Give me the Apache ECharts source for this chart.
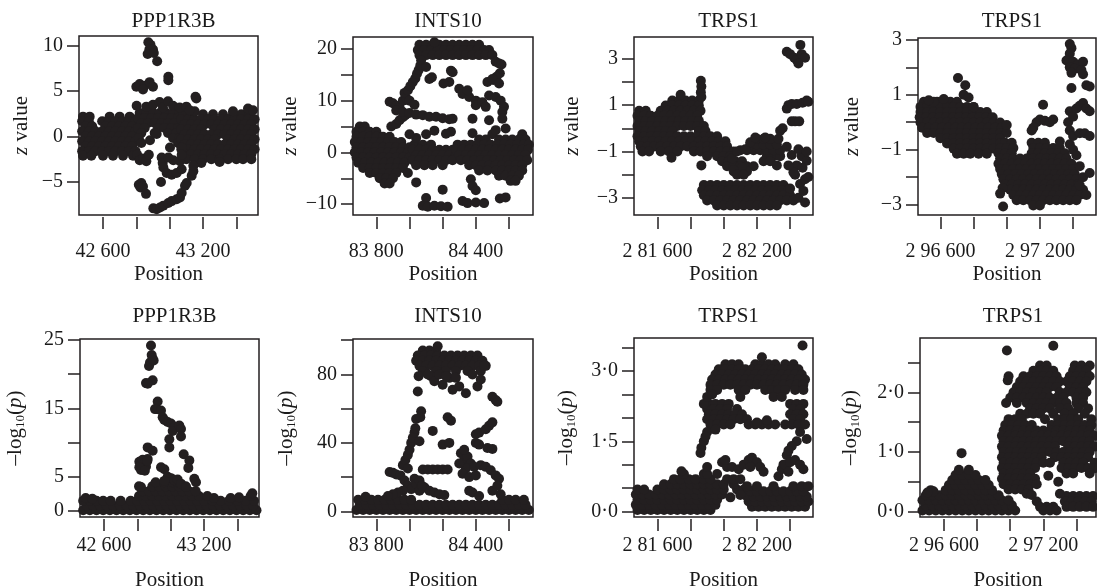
<!DOCTYPE html>
<html><head><meta charset="utf-8">
<script src="https://cdn.jsdelivr.net/npm/echarts@6/dist/echarts.min.js"></script>
<style>html,body{margin:0;padding:0;background:#fff}#c{width:1097px;height:588px}</style>
</head><body><div id="c"></div>
<script>
// ---------- titles ----------
const titles = ['PPP1R3B','INTS10','TRPS1','TRPS1','PPP1R3B','INTS10','TRPS1','TRPS1'];

// ---------- x ticks ----------
const xTicks1 = [42600,42800,43000,43200,43400], xLabVals1 = [42600,43200], xLabTxt1 = ['42 600','43 200'];
const xTicks2 = [83800,84000,84200,84400,84600], xLabVals2 = [83800,84400], xLabTxt2 = ['83 800','84 400'];
const xTicks3 = [281600,281800,282000,282200,282400], xLabVals3 = [281600,282200], xLabTxt3 = ['2 81 600','2 82 200'];
const xTicks4 = [296600,296800,297000,297200,297400], xLabVals4 = [296600,297200], xLabTxt4 = ['2 96 600','2 97 200'];

// ---------- y ticks ----------
const yTicksZ1 = [-5,0,5,10], yLabValsZ1 = [-5,0,5,10], yLabTxtZ1 = ['\u22125','0','5','10'];
const yTicksZ2 = [-10,-5,0,5,10,15,20], yLabValsZ2 = [-10,0,10,20], yLabTxtZ2 = ['\u221210','0','10','20'];
const yTicksZ3 = [-3,-2,-1,0,1,2,3], yLabValsZ3 = [-3,-1,1,3], yLabTxtZ3 = ['\u22123','\u22121','1','3'];
const yTicksZ4 = [-3,-2,-1,0,1,2,3], yLabValsZ4 = [-3,-1,1,3], yLabTxtZ4 = ['\u22123','\u22121','1','3'];
const yTicksP1 = [0,5,10,15,20,25], yLabValsP1 = [0,5,15,25], yLabTxtP1 = ['0','5','15','25'];
const yTicksP2 = [0,20,40,60,80,100], yLabValsP2 = [0,40,80], yLabTxtP2 = ['0','40','80'];
const yTicksP3 = [0,0.5,1,1.5,2,2.5,3,3.5], yLabValsP3 = [0,1.5,3], yLabTxtP3 = ['0\u00b70','1\u00b75','3\u00b70'];
const yTicksP4 = [0,0.5,1,1.5,2,2.5], yLabValsP4 = [0,1,2], yLabTxtP4 = ['0\u00b70','1\u00b70','2\u00b70'];

// ---------- data ----------
// Dense regions are listed row by row: [y, x1, x2, ...] (each x is one point at that y).
// Isolated points are listed as [x, y].

// PPP1R3B, z value
const z1Rows = [
[2.2, 42480,42520,42640,42700,42760],
[1.7, 42475,42515,42595,42635,42675,42715,42755,42795],
[1.15, 42495,42535,42615,42655,42695,42735,42775],
[0.6, 42475,42515,42555,42595,42635,42675,42715,42755,42795],
[0.05, 42495,42535,42575,42615,42655,42695,42735,42775],
[-0.5, 42475,42515,42555,42595,42635,42675,42715,42755,42795],
[-1.05, 42495,42535,42575,42615,42655,42695,42735,42775],
[-1.6, 42475,42515,42555,42595,42635,42675,42715,42755,42795],
[-2.1, 42480,42530,42600,42660,42720,42780],
[2.6, 42820,42860,42900,42940,42980,43020,43060],
[2.05, 42810,42850,42890,42930,42970,43010,43050],
[1.5, 42830,42870,42910,42950,42990,43030],
[0.95, 42810,42850,42930,42970,43010,43050],
[0.4, 42830,42910,42990,43040],
[-0.15, 42815,43020,43060],
[-0.7, 42830,43050],
[2.45, 43080,43130,43200,43260,43320,43380,43430,43480],
[1.9, 43070,43110,43150,43190,43230,43270,43310,43350,43390,43430,43470,43510],
[1.35, 43090,43130,43170,43210,43250,43290,43330,43370,43410,43450,43490],
[0.8, 43070,43110,43150,43190,43270,43310,43350,43390,43430,43470,43510],
[0.25, 43090,43130,43170,43210,43250,43290,43330,43370,43410,43450,43490],
[-0.3, 43070,43110,43150,43190,43230,43270,43350,43390,43430,43470,43510],
[-0.85, 43090,43130,43170,43210,43250,43290,43330,43370,43410,43450,43490],
[-1.4, 43070,43110,43150,43190,43230,43270,43310,43350,43390,43430,43470,43510],
[-1.95, 43090,43130,43170,43210,43250,43290,43330,43370,43410,43450,43490],
[-2.5, 43100,43150,43200,43250,43300,43350,43400,43440,43490]
];
const z1Pts = [
[43470,3.1],[43500,2.9],[43190,-2.9],[43300,-2.8],[43150,2.8],[43380,2.8],
[42872,10.4],[42885,10.1],[42878,9.6],[42900,9.6],[42868,9.1],[42905,9.2],[42925,8.3],
[42800,5.5],[42820,5.8],[42850,5.6],[42880,6.0],[42900,5.5],[42840,5.2],[42992,6.6],[42992,6.2],
[43160,4.2],[43155,4.4],
[42802,3.4],[42860,3.3],[42900,3.5],[42940,3.8],[42960,3.2],[42990,3.9],[43020,3.4],[43060,3.2],[43100,3.3],[43120,2.9],
[42815,-5.3],[42830,-5.1],[42840,-5.5],[42825,-5.6],[42858,-6.3],
[42805,-2.0],[42820,-2.6],[42840,-2.4],[42860,-2.7],[42875,-2.0],
[42882,-0.4],[42922,0.3],
[42902,-7.9],[42922,-8.0],[42942,-7.8],[42962,-7.6],[42992,-7.3],[43012,-7.1],[43042,-6.9],[43062,-6.7],[43072,-6.2],[43092,-5.4],[43102,-5.1],[43132,-4.3],[43142,-3.8],[43142,-3.2],
[42948,-5.0],
[42952,-2.3],[42958,-2.9],[42962,-3.4],[42982,-4.0],[43012,-4.2],[43042,-4.0],[43072,-3.6],[43062,-2.7],[43022,-2.6],[42992,-2.3],[43002,-1.2],
[43072,-1.2],[43072,-2.0]
];

// INTS10, z value
const z2Rows = [
[5.0, 83700,83730],
[4.0, 83680,83720,83760,83800],
[3.0, 83680,83720,83760,83800,83840,83880],
[2.0, 83670,83710,83750,83790,83830,83870,83910,83950],
[1.0, 83680,83720,83760,83800,83840,83880,83920,83960,84000],
[0.0, 83670,83710,83750,83790,83830,83870,83910,83950,83990],
[-1.0, 83680,83720,83760,83800,83840,83880,83920,83960,84000],
[-2.0, 83690,83730,83770,83810,83850,83890,83930,83970],
[-3.0, 83720,83760,83800,83840,83880,83920,83960],
[-4.0, 83760,83800,83840,83880,83920],
[-5.0, 83820,83860,83900],
[-6.0, 83850,83880],
[1.5, 84030,84080,84130],
[0.5, 84020,84060,84100,84140,84180,84220,84260],
[-0.5, 84040,84080,84120,84160,84200,84240,84280],
[-1.5, 84020,84060,84100,84140,84180,84220,84260],
[-2.5, 84040,84090,84140,84200],
[3.5, 84500,84680],
[2.5, 84420,84460,84540,84580,84620,84660,84700],
[1.5, 84290,84330,84370,84410,84450,84490,84530,84570,84610,84650,84690,84720],
[0.5, 84280,84320,84360,84400,84440,84480,84520,84560,84600,84640,84680,84715],
[-0.5, 84300,84340,84380,84420,84460,84500,84540,84580,84620,84660,84700],
[-1.5, 84310,84350,84390,84430,84470,84510,84550,84590,84630,84670,84710],
[-2.5, 84360,84400,84440,84480,84520,84560,84600,84640,84680],
[-3.5, 84420,84470,84520,84560,84600,84640,84680],
[-4.5, 84540,84580,84620,84660],
[-5.5, 84610,84640],
[20.8, 84060,84100,84140,84180,84220,84260,84300,84340,84380,84420],
[19.8, 84050,84090,84130,84170,84210,84250,84290,84330,84370,84410,84450,84480],
[18.8, 84060,84100,84140,84180,84220,84260,84300,84340,84380,84420,84460,84500]
];
const z2Pts = [
[84040,2.8],[84100,3.5],[84150,4.2],[84000,3.5],
[83890,5.0],[83920,5.5],[83940,6.2],[83960,6.8],[83975,7.2],
[83880,9.8],[83900,9.5],[83920,9.0],[83940,8.7],[83960,10.0],[83980,10.5],
[83970,11.5],[83990,12.0],[84005,12.8],[84020,13.6],[84035,14.3],[84045,15.2],[84055,15.9],[84065,16.8],[84070,17.8],
[84150,21.3],[84520,17.5],[84540,17.2],[84555,17.0],[84545,15.3],[84525,14.6],[84505,14.0],
[84100,16.5],[84120,14.2],[84135,14.5],[84250,15.8],[84240,13.6],[84205,13.3],[84260,15.5],
[84300,12.3],[84320,11.3],[84360,10.7],[84400,10.0],[84400,9.1],[84440,9.7],[84350,12.0],[84470,13.6],[84500,14.2],[84540,13.3],[84480,11.0],[84520,10.7],[84550,10.0],[84570,8.8],[84560,7.8],[84560,6.5],[84580,4.6],[84520,4.3],[84480,6.2],[84380,6.5],[84380,3.7],[84460,8.8],
[83920,8.1],[83960,7.8],[84000,7.6],[84040,7.3],[84080,7.2],[84120,6.9],[84160,6.9],[84200,6.6],[84240,6.4],[84260,6.5],[84250,4.0],[84220,3.6],
[84000,10.0],[84030,9.2],
[84100,-8.8],[84080,-10.3],[84110,-10.5],[84150,-10.3],[84190,-10.4],[84230,-10.5],[84200,-7.2],[84320,-9.4],[84350,-9.8],[84400,-9.7],[84450,-9.8],[84370,-5.2],[84380,-6.5],[84400,-7.3],[84545,-8.9],[84580,-8.7],[84040,-5.8],[83990,-4.0]
];

// TRPS1 (2 81 600 locus), z value
const z3Rows = [
[1.2, 281690,281730,281770,281810,281850],
[0.98, 281650,281690,281730,281770,281810,281850],
[0.76, 281490,281530,281620,281660,281700,281740,281780,281820,281860],
[0.54, 281480,281520,281560,281600,281640,281680,281720,281760,281800,281840],
[0.32, 281490,281530,281570,281610,281650,281690,281730,281770,281810,281850],
[0.1, 281480,281520,281560,281600,281640,281680,281720,281760,281800,281840,281880],
[-0.12, 281490,281530,281570,281610,281650,281690,281850,281890],
[-0.34, 281480,281520,281560,281600,281640,281680,281720,281760,281800,281840,281880,281920,281960],
[-0.56, 281490,281530,281570,281610,281650,281690,281730,281770,281810,281850,281890,281930,281970,282010],
[-0.78, 281500,281540,281580,281620,281660,281700,281740,281780,281820,281860,281900,281940,281980,282020],
[-1.0, 281510,281550,281620,281670,281720,281820,281860,281900,281940,281980,282020,282060],
[-1.2, 281960,282000,282040,282260,282300,282340],
[-1.42, 281990,282030,282070,282110,282240,282280],
[-1.64, 282020,282060,282100,282140,282180],
[-1.86, 282060,282100,282140],
[-0.95, 282100,282140,282180,282220,282260,282300,282340],
[-0.7, 282160,282200,282240,282280,282320],
[-0.45, 282200,282240,282280,282330],
[-2.45, 281880,281920,281960,282000,282040,282080,282120,282160,282200,282240,282280,282320,282360],
[-2.67, 281870,281910,281950,281990,282030,282070,282110,282150,282190,282230,282270,282310,282350,282390],
[-2.89, 281880,281920,281960,282000,282040,282080,282120,282160,282200,282240,282280,282320,282360,282400],
[-3.11, 281900,281940,281980,282020,282060,282100,282140,282180,282220,282260,282300,282340,282380,282420],
[-3.33, 281960,282000,282040,282080,282120,282160,282200,282240,282280,282320]
];
const z3Pts = [
[281740,1.45],[281685,-1.27],[281862,2.05],[281865,1.8],[281862,1.55],[281865,1.35],
[281865,-1.6],[281900,-1.2],
[282050,-1.3],[282080,-1.0],[282130,-0.9],[282160,-0.6],[282190,-0.4],[282250,-0.4],[282340,-0.1],
[282110,-1.7],[282060,-1.8],[282080,-2.0],[282120,-2.0],[282355,0.0],[282320,-1.6],
[282380,-0.8],[282410,-1.15],[282440,-1.6],[282470,-1.2],[282500,-1.4],[282430,-2.0],[282460,-2.4],[282490,-2.2],[282510,-2.1],[282400,-2.6],[282450,-3.0],[282490,-3.2],[282420,-1.9],[282450,-0.9],[282390,-1.6],[282480,-2.7],[282500,-1.0],[282475,-1.7],
[282380,3.3],[282400,3.2],[282425,3.05],[282440,2.95],[282462,3.6],[282470,3.2],[282490,3.05],[282450,2.8],
[282380,0.85],[282390,1.0],[282410,1.05],[282440,1.05],[282475,1.1],[282500,1.2],[282510,1.15],
[282410,0.3],[282430,0.3],[282455,0.3]
];

// TRPS1 (2 96 600 locus), z value
const z4Rows = [
[0.75, 296500,296540,296580,296620,296660,296700],
[0.56, 296480,296520,296560,296600,296640,296680,296720,296760,296800],
[0.37, 296480,296520,296560,296600,296640,296680,296720,296760,296800,296840,296880],
[0.18, 296475,296515,296555,296595,296635,296675,296715,296755,296795,296835,296875,296915],
[-0.01, 296480,296520,296560,296600,296640,296680,296720,296760,296800,296840,296880,296920,296960],
[-0.2, 296490,296530,296570,296610,296650,296690,296730,296770,296810,296850,296890,296930,296970],
[-0.39, 296520,296560,296600,296640,296680,296720,296760,296800,296840,296880,296920,296960,297000],
[-0.58, 296600,296640,296680,296720,296760,296800,296840,296880,296920,296960],
[-0.77, 296640,296680,296720,296760,296800,296840,296880,296920,296960],
[-0.96, 296680,296720,296760,296800,296840,296880,296920],
[-1.15, 296700,296740,296780,296830,296880],
[-0.75, 296990,297030,297150,297190,297230],
[-0.94, 296960,297000,297040,297160,297200,297240,297280,297320],
[-1.13, 296950,296990,297030,297150,297190,297230,297270,297310,297350],
[-1.32, 296960,297000,297040,297080,297120,297160,297200,297240,297280,297320,297360],
[-1.51, 296950,296990,297030,297070,297110,297150,297190,297230,297270,297310,297350,297390],
[-1.7, 296960,297000,297040,297080,297120,297160,297200,297240,297280,297320,297360,297400],
[-1.89, 296970,297010,297050,297090,297130,297170,297210,297250,297290,297330,297370,297410],
[-2.08, 296980,297020,297060,297100,297140,297180,297220,297260,297300,297340,297380,297420],
[-2.27, 296990,297030,297070,297110,297150,297190,297230,297270,297310,297350,297390,297430],
[-2.46, 297020,297060,297100,297140,297180,297220,297260,297300,297340,297380,297420,297460],
[-2.65, 297040,297080,297120,297160,297200,297240,297280,297320,297360,297400,297440,297480],
[-2.84, 297060,297100,297140,297180,297220,297260,297300,297340,297380,297420],
[-3.03, 297160,297200]
];
const z4Pts = [
[296706,1.61],[296750,1.35],[296740,1.0],[296770,0.9],[296620,0.85],[296560,0.75],[296800,0.55],[297000,-0.1],[296530,0.8],
[296978,-3.07],[296975,-2.4],[296960,-2.6],
[297320,-0.7],[297380,-0.8],[297400,-1.0],[297420,-1.2],[297440,-1.6],[297460,-2.0],[297500,-1.85],[297440,-2.3],
[297180,0.0],[297200,0.1],[297230,0.05],[297260,0.0],[297280,0.1],[297160,-0.2],[297150,-0.3],[297219,0.64],
[297370,0.0],[297380,0.4],[297400,0.2],[297420,0.5],[297440,0.6],[297460,0.7],[297480,0.5],[297500,0.4],[297380,-0.3],[297400,-0.5],[297440,-0.4],[297470,-0.4],[297500,-0.5],
[297380,2.85],[297390,2.7],[297380,2.5],[297360,2.25],[297400,2.2],[297430,2.1],[297460,2.2],[297380,2.0],[297410,1.95],[297450,1.9],[297390,1.8],[297460,1.75],[297480,1.35],[297500,1.3],[297390,1.25]
];

// PPP1R3B, -log10(p)
const lp1Rows = [
[0.1, 42475,42515,42555,42595,42635,42675,42715,42755,42795,42835,42875,42915,42955,42995,43035,43075,43115,43155,43195,43235,43275,43315,43355,43395,43435,43475,43515],
[0.8, 42495,42535,42575,42615,42655,42695,42735,42775,42815,42855,42895,42935,42975,43015,43055,43095,43135,43175,43215,43255,43295,43335,43375,43415,43455,43495],
[1.5, 42475,42515,42555,42595,42640,42700,42760,42800,42840,42880,42920,42960,43000,43040,43080,43120,43160,43200,43250,43300,43350,43400,43450,43500],
[2.2, 42810,42850,42890,42930,42970,43010,43050,43090,43130,43170,43220,43480],
[2.9, 42830,42870,42910,42950,42990,43030,43070,43110,43150],
[3.6, 42810,42890,42930,42970,43010,43050,43090],
[4.2, 42910,42960,43010,43040]
];
const lp1Pts = [
[42490,1.9],[42530,1.8],[43260,1.9],[43360,1.9],[43410,2.0],[43490,2.6],
[42882,24.2],[42886,22.8],[42892,22.3],[42876,21.7],[42870,21.2],[42898,22.0],[42892,19.1],[42852,18.7],[42862,18.6],
[42922,16.0],[42918,14.9],[42906,14.9],[42942,14.7],[42952,13.7],[42962,13.3],[42982,13.0],[43002,12.8],[43022,12.3],[43012,11.7],[43052,12.5],[43062,12.0],[43062,10.9],[42992,10.5],[42992,9.3],[43078,8.3],[43112,7.4],[43106,6.3],[43142,4.7],[43152,4.2],
[42812,7.2],[42822,6.8],[42832,7.5],[42842,7.0],[42852,6.5],[42862,7.6],[42822,6.0],[42812,6.4],[42845,5.9],[42860,7.3],[42862,9.3],[42892,8.8],[42942,6.4],[42962,6.1],[42822,3.5],
[42982,5.0],[43002,4.8],[43022,4.5],[43042,4.6],[43062,4.0],[42962,4.4],[43092,3.5]
];

// INTS10, -log10(p)
const lp2Rows = [
[0.8, 83680,83720,83760,83800,83840,83880,83920,83960,84000,84040,84080,84120,84160,84200,84240,84280,84320,84360,84400,84440,84480,84520,84560,84600,84640,84680,84720],
[3.8, 83700,83740,83780,83820,83860,83900,83940,83980,84020,84060,84100,84140,84180,84220,84260,84300,84340,84380,84420,84460,84500,84540,84580,84620,84660,84700],
[6.8, 83690,83730,83770,83810,83850,83890,83930,83970,84010,84560,84600,84640,84690],
[94, 84080,84120,84160],
[91, 84050,84090,84130,84170,84210,84250,84290,84330,84370,84410],
[88, 84040,84080,84120,84160,84200,84240,84280,84320,84360,84400,84440],
[85, 84060,84100,84140,84180,84220,84260,84300,84340,84380,84420,84460],
[82, 84080,84160,84220,84280,84350,84430]
];
const lp2Pts = [
[83735,8.5],
[83880,23.0],[83900,22.5],[83920,21.5],[83945,21.0],[83960,27.0],[83975,30.0],[83990,33.0],[84000,36.0],[84010,40.0],[84020,43.0],[84030,46.0],[84035,48.5],[83990,25.0],[83970,18.0],[83990,15.0],[84010,13.0],[84030,19.0],[84040,16.0],[83960,12.0],[83930,11.0],[83900,10.0],[83870,9.0],
[84080,24.5],[84110,24.5],[84140,24.5],[84170,24.5],[84200,24.5],[84230,24.5],
[84060,12.0],[84090,14.0],[84120,12.0],[84150,11.0],[84180,10.0],[84210,9.5],[84060,18.0],[84075,15.0],
[84170,96.5],
[84050,70],[84055,79],[84130,79],[84150,76],[84180,80],[84200,74],[84240,78],[84260,71],[84300,73],[84340,69],[84380,80],[84410,73],[84430,77],[84450,85],[84500,67],[84520,65],[84530,64],[84110,80],[84220,79],[84280,78],
[84070,58.5],[84040,54],[84065,55],[84230,55],[84250,53],[84060,41],[84140,47],[84200,39],[84240,40],
[84400,45],[84420,46],[84460,48],[84480,50],[84500,52],[84400,40],[84420,39],[84470,37],[84500,36.5],
[84310,34],[84330,30],[84350,32],[84370,28],[84340,25],[84320,22],[84360,20],[84390,26],[84400,21],[84330,36],[84300,28],
[84430,27],[84460,26],[84490,24],[84520,21],[84540,19],[84550,10],[84360,12],[84380,11],[84420,9],[84500,12],[84530,15]
];

// TRPS1 (2 81 600 locus), -log10(p)
const lp3Rows = [
[0.03, 281480,281520,281560,281600,281640,281680,281720,281760,281800,281840,281880,281920],
[0.14, 281470,281510,281550,281590,281630,281670,281710,281750,281790,281830,281870,281910,281950],
[0.25, 281480,281520,281560,281600,281640,281680,281720,281760,281800,281840,281880,281920,281960],
[0.36, 281470,281510,281550,281590,281630,281670,281710,281750,281790,281830,281870,281910,281950,281990],
[0.47, 281480,281520,281600,281640,281680,281720,281760,281800,281840,281880,281920,281960,282000,282080,282120],
[0.58, 281640,281680,281720,281760,281800,281840,281880,281920,281960,282000,282060],
[0.69, 281700,281740,281790,281830,281880,281920,282020,282060,282100],
[0.8, 281760,281880,281900,281960],
[3.15, 282010,282050,282090,282190,282230,282270,282310,282370,282420],
[3.04, 281970,282010,282050,282090,282130,282170,282210,282250,282290,282330,282370,282410,282450],
[2.93, 281950,281990,282030,282070,282110,282150,282190,282230,282270,282310,282350,282390,282430,282470],
[2.82, 281930,281970,282010,282050,282090,282130,282170,282210,282250,282290,282330,282370,282410,282450,282490],
[2.71, 281920,281960,282000,282040,282080,282120,282160,282200,282240,282280,282320,282360,282400,282440,282480],
[2.6, 281920,281960,282090,282130,282250,282290,282330,282370,282430,282480],
[2.3, 281910,281950,281990,282030,282400,282440,282480],
[2.19, 281900,281940,281980,282020,282080,282420,282460],
[2.08, 281910,281950,281990,282030,282070,282110,282400,282440,282480],
[1.97, 281900,281940,281980,282020,282060,282100,282140,282420,282460],
[1.86, 281920,281960,282000,282040,282150,282190,282230,282270,282310,282370,282410,282450,282490],
[0.1, 282170,282210,282250,282290,282330,282370,282410,282450,282490],
[0.21, 282150,282190,282230,282270,282310,282350,282390,282430,282470,282510],
[0.32, 282140,282180,282220,282260,282300,282340,282380,282420,282460,282500],
[0.43, 282160,282200,282240,282280,282320,282360,282400,282440,282480],
[0.54, 282140,282200,282300,282420,282470,282510]
];
const lp3Pts = [
[281745,0.86],[281900,0.95],[282040,0.3],[282100,0.35],
[281990,1.05],[282020,0.95],[282050,0.95],[282090,0.9],[282120,1.0],[282150,1.1],[282170,1.15],[282200,1.05],[282220,0.95],[282240,0.85],[282160,0.95],[282010,1.1],
[281860,1.25],[281865,1.36],[281880,1.5],[281900,1.7],[281890,1.6],[281880,2.3],[281900,2.45],[281930,2.5],[281950,1.75],
[282100,2.45],[282300,2.45],[282350,2.45],[282200,1.9],[282260,1.95],
[282500,1.55],[282440,1.5],[282410,1.4],[282380,1.2],[282360,1.0],[282390,1.3],[282460,1.7],
[282330,0.75],[282350,0.9],[282370,1.0],[282400,1.05],[282430,1.1],[282460,1.0],[282480,0.9],[282390,0.85],
[282230,3.3],[282475,3.55]
];

// TRPS1 (2 96 600 locus), -log10(p)
const lp4Rows = [
[0.02, 296470,296510,296550,296590,296630,296670,296710,296750,296790,296830,296870,296910,296950,296990,297030],
[0.105, 296490,296530,296570,296610,296650,296690,296730,296770,296810,296850,296890,296930,296970,297010],
[0.19, 296470,296510,296550,296590,296630,296670,296710,296750,296790,296830,296870,296910,296950,296990],
[0.275, 296490,296530,296570,296610,296650,296690,296730,296770,296810,296850,296890,296930],
[0.36, 296520,296610,296650,296690,296730,296770,296810,296850,296890],
[0.445, 296630,296670,296710,296750,296790,296830,296870],
[0.53, 296650,296690,296730,296770,296810,296850],
[0.615, 296670,296710,296750,296790],
[0.7, 296690,296750],
[2.45, 297180,297220,297390,297430,297480],
[2.36, 297140,297180,297220,297260,297380,297420,297460],
[2.27, 297080,297120,297160,297200,297240,297280,297360,297400,297440,297480],
[2.18, 297060,297100,297140,297180,297220,297260,297300,297340,297380,297420,297460],
[2.09, 297040,297080,297120,297160,297200,297240,297280,297360,297400,297440],
[2.0, 297020,297060,297100,297140,297180,297220,297300,297340,297380,297420,297460],
[1.91, 297000,297040,297080,297120,297160,297200,297240,297280,297320,297400,297440],
[1.82, 297040,297100,297140,297180,297220,297260,297300,297340,297400,297440],
[1.73, 297120,297160,297200,297240,297300,297350,297410,297470],
[1.64, 297060,297100,297140,297180,297260,297330,297380,297450],
[1.55, 296990,297030,297070,297210,297290,297330,297370,297410,297490],
[1.45, 296970,297010,297050,297090,297130,297250,297290,297330,297370,297410,297450,297490],
[1.36, 296960,297000,297040,297080,297120,297160,297200,297240,297280,297320,297360,297400,297440,297480],
[1.27, 296950,296990,297030,297070,297110,297150,297190,297230,297270,297310,297350,297390,297430,297470,297510],
[1.18, 296960,297000,297040,297080,297120,297160,297200,297240,297280,297320,297360,297400,297440,297480],
[1.09, 296950,296990,297030,297070,297110,297150,297190,297230,297270,297350,297390,297430,297470,297510],
[1.0, 296960,297000,297040,297080,297120,297160,297200,297240,297280,297320,297360,297400,297440,297480],
[0.91, 296950,296990,297030,297070,297110,297150,297190,297270,297310,297350,297390,297430,297470],
[0.82, 296960,297000,297040,297080,297120,297160,297200,297240,297320,297360,297400,297440,297510],
[0.73, 296950,296990,297030,297070,297110,297150,297310,297350,297390,297430,297470,297510],
[0.64, 296960,297000,297040,297080,297120,297340,297380,297480],
[0.55, 296950,296990,297030,297070,297110,297150],
[0.46, 296960,297000,297040,297080,297120,297160],
[0.37, 296990,297030,297070,297110],
[0.26, 297340,297380,297420,297460,297500],
[0.17, 297160,297330,297370,297410,297450,297490,297520],
[0.08, 297180,297220,297260,297340,297380,297420,297460,297500],
[0.02, 297200,297240,297280]
];
const lp4Pts = [
[296706,0.98],[296536,0.34],[296500,0.32],
[296980,2.7],[297260,2.78],[296990,2.27],[296985,2.2],[296975,1.82],
[297230,0.6],[297290,0.5],[297100,0.3],[297130,0.28],[297300,0.3],[297520,0.75]
];

// ---------- layout (positions / styles) ----------
const boxes = [
 {l:79,t:36,w:179,h:179},{l:353,t:37,w:180,h:178},{l:634,t:37,w:179,h:178},{l:918,t:38,w:178,h:177},
 {l:80,t:339,w:179,h:178},{l:353,t:339,w:180,h:178},{l:634,t:338,w:179,h:179},{l:920,t:338,w:176,h:179}
];
const xRanges = [[42456,43530],[83659,84745],[281459,282538],[296465,297538],[42456,43530],[83659,84745],[281459,282538],[296455,297518]];
const yRanges = [[-8.63,11.08],[-12.1,22.3],[-3.74,3.94],[-3.38,3.07],[-0.88,25.15],[-3.3,100.7],[-0.12,3.71],[-0.09,2.91]];
const yNameGap = [47,52,51,55,53,55,56,58];

function expandRows(rows){ const out=[]; rows.forEach(r=>{ for(let k=1;k<r.length;k++) out.push([r[k], r[0]]); }); return out; }

const panels = [
 {d:expandRows(z1Rows).concat(z1Pts), xt:xTicks1, xv:xLabVals1, xs:xLabTxt1, yt:yTicksZ1, yv:yLabValsZ1, ys:yLabTxtZ1, z:true},
 {d:expandRows(z2Rows).concat(z2Pts), xt:xTicks2, xv:xLabVals2, xs:xLabTxt2, yt:yTicksZ2, yv:yLabValsZ2, ys:yLabTxtZ2, z:true},
 {d:expandRows(z3Rows).concat(z3Pts), xt:xTicks3, xv:xLabVals3, xs:xLabTxt3, yt:yTicksZ3, yv:yLabValsZ3, ys:yLabTxtZ3, z:true},
 {d:expandRows(z4Rows).concat(z4Pts), xt:xTicks4, xv:xLabVals4, xs:xLabTxt4, yt:yTicksZ4, yv:yLabValsZ4, ys:yLabTxtZ4, z:true},
 {d:expandRows(lp1Rows).concat(lp1Pts), xt:xTicks1, xv:xLabVals1, xs:xLabTxt1, yt:yTicksP1, yv:yLabValsP1, ys:yLabTxtP1, z:false},
 {d:expandRows(lp2Rows).concat(lp2Pts), xt:xTicks2, xv:xLabVals2, xs:xLabTxt2, yt:yTicksP2, yv:yLabValsP2, ys:yLabTxtP2, z:false},
 {d:expandRows(lp3Rows).concat(lp3Pts), xt:xTicks3, xv:xLabVals3, xs:xLabTxt3, yt:yTicksP3, yv:yLabValsP3, ys:yLabTxtP3, z:false},
 {d:expandRows(lp4Rows).concat(lp4Pts), xt:xTicks4, xv:xLabVals4, xs:xLabTxt4, yt:yTicksP4, yv:yLabValsP4, ys:yLabTxtP4, z:false}
];

const FONT = '"Liberation Serif","Times New Roman",serif';
const INK = '#231f20';
const TXT = '#1a1a1a';

const option = {animation:false, backgroundColor:'#fff', title:[], grid:[], xAxis:[], yAxis:[], series:[]};
panels.forEach((p,i)=>{
  const b = boxes[i];
  const top = i < 4;
  option.title.push({text:titles[i], left:b.l + b.w/2, top: top ? 6 : 301, textAlign:'center',
    textStyle:{fontFamily:FONT, fontSize:21, fontWeight:'normal', color:TXT}});
  option.grid.push({left:b.l, top:b.t, width:b.w, height:b.h, show:true, containLabel:false, outerBoundsMode:'none',
    borderColor:INK, borderWidth:1.5, backgroundColor:'transparent'});
  option.xAxis.push({type:'value', gridIndex:i, min:xRanges[i][0], max:xRanges[i][1], offset:2,
    axisLine:{show:false, onZero:false}, splitLine:{show:false},
    axisTick:{show:true, inside:false, length:12, customValues:p.xt, lineStyle:{color:INK, width:1.5}},
    axisLabel:{show:true, customValues:p.xv, margin: top ? 25 : 17, formatter:(v)=>p.xs[p.xv.indexOf(v)],
      fontFamily:FONT, fontSize:20, color:TXT},
    name:'Position', nameLocation:'middle', nameGap: top ? 47 : 51,
    nameTextStyle:{fontFamily:FONT, fontSize:21, color:TXT}});
  option.yAxis.push({type:'value', gridIndex:i, min:yRanges[i][0], max:yRanges[i][1],
    axisLine:{show:false, onZero:false}, splitLine:{show:false},
    axisTick:{show:true, inside:false, length:12, customValues:p.yt, lineStyle:{color:INK, width:1.5}},
    axisLabel:{show:true, customValues:p.yv, margin:16, formatter:(v)=>p.ys[p.yv.indexOf(v)],
      fontFamily:FONT, fontSize:20, color:TXT},
    name: p.z ? '{i|z}{n| value}' : '{n|\u2013log}{s|10}{n|(}{i|p}{n|)}',
    nameLocation:'middle', nameGap:yNameGap[i], nameRotate:90,
    nameTextStyle:{fontFamily:FONT, fontSize:21, color:TXT,
      rich:{n:{fontFamily:FONT, fontSize:21, color:TXT},
            i:{fontFamily:FONT, fontSize:21, fontStyle:'italic', color:TXT},
            s:{fontFamily:FONT, fontSize:13, color:TXT, padding:[10,0,0,0]}}}});
  option.series.push({type:'scatter', xAxisIndex:i, yAxisIndex:i, data:p.d, symbol:'circle', symbolSize:10,
    itemStyle:{color:INK, opacity:1}, emphasis:{disabled:true}, silent:true});
});
const chart = echarts.init(document.getElementById('c'), null, {renderer:'canvas'});
chart.setOption(option);
</script></body></html>
